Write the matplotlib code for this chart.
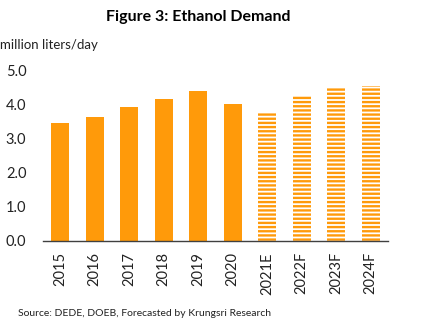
import matplotlib.pyplot as plt

years = ['2015', '2016', '2017', '2018', '2019', '2020', '2021E', '2022F', '2023F', '2024F']
demand = [3.46, 3.62, 3.92, 4.15, 4.38, 4.00, 3.75, 4.23, 4.46, 4.54]
n_actual = 6  # bars after this are estimates / forecasts

orange = '#FF9A0A'
grey = '#404040'

plt.rcParams['font.family'] = ['Lato', 'DejaVu Sans']
plt.rcParams['hatch.linewidth'] = 1.7
plt.rcParams['hatch.color'] = orange

fig = plt.figure(figsize=(4.35, 3.28), dpi=100)
ax = fig.add_axes([43/435, 1 - 241/328, 345/435, 171/328])

x = list(range(len(years)))
ax.bar(x[:n_actual], demand[:n_actual], width=0.52, color=orange, linewidth=0)
ax.bar(x[n_actual:], demand[n_actual:], width=0.52, facecolor='white',
       edgecolor=orange, hatch='----', linewidth=0)

ax.set_xlim(-0.5, len(years) - 0.5)
ax.set_ylim(0, 5.0)
ax.set_yticks([0, 1, 2, 3, 4, 5])
ax.set_yticklabels(['%.1f' % v for v in [0, 1, 2, 3, 4, 5]])
ax.set_xticks(x)
ax.set_xticklabels(years, rotation=90)
ax.tick_params(axis='both', length=0, labelsize=10.5, colors='#222222')
ax.tick_params(axis='x', pad=8)
ax.tick_params(axis='y', pad=12)

for s in ['top', 'right', 'left']:
    ax.spines[s].set_visible(False)
ax.spines['bottom'].set_color(grey)
ax.spines['bottom'].set_linewidth(1.0)

fig.text(198/435, 1 - 17/328, 'Figure 3: Ethanol Demand', ha='center', va='center',
         fontsize=11.5, fontweight='bold', color='black')
fig.text(0, 1 - 45/328, 'million liters/day', ha='left', va='center',
         fontsize=9.5, color='#222222')
fig.text(18/435, 1 - 313/328, 'Source: DEDE, DOEB, Forecasted by Krungsri Research',
         ha='left', va='center', fontsize=7.5, color='#222222')

fig.savefig('out.png', dpi=100)
